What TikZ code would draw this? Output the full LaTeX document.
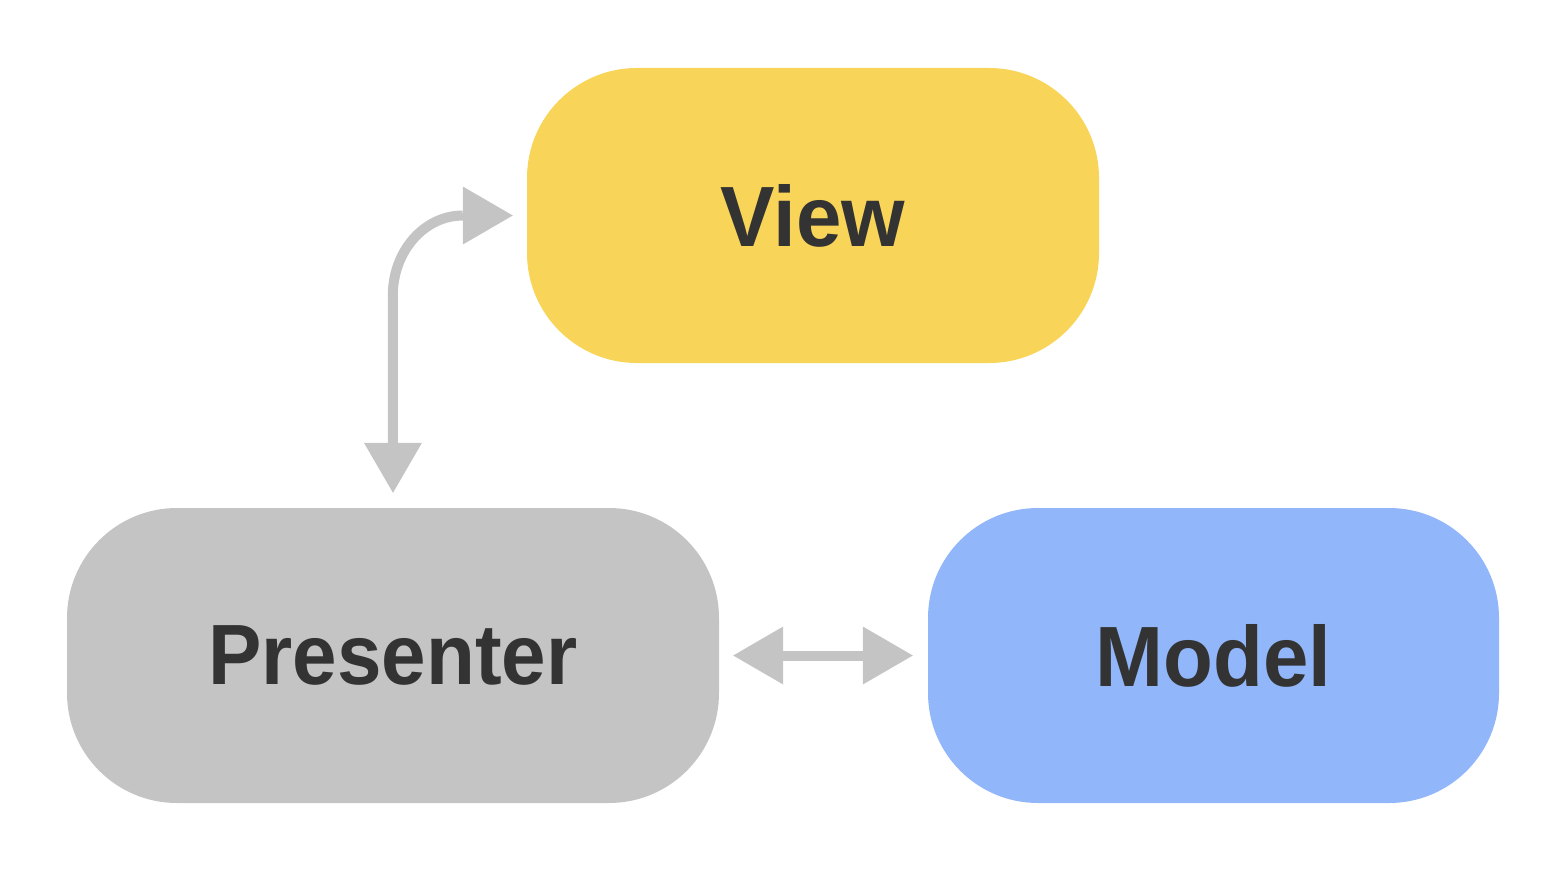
\documentclass[tikz,border=0pt]{standalone}
\usepackage{fontspec}
\setmainfont{Liberation Sans}
\usetikzlibrary{arrows.meta}
\definecolor{viewfill}{HTML}{F8D458}
\definecolor{presfill}{HTML}{C4C4C4}
\definecolor{modelfill}{HTML}{91B6F9}
\definecolor{txt}{HTML}{333333}
\definecolor{arr}{HTML}{C4C4C4}
\begin{document}
\begin{tikzpicture}[x=1pt,y=-1pt,
  box/.style={rectangle, rounded corners=110pt, minimum width=572pt, minimum height=295pt, inner sep=0pt,
    font=\fontsize{80}{90}\selectfont\bfseries, text=txt},
  conn/.style={draw=arr, line width=10pt, line cap=butt,
    {Triangle[length=50pt,width=58pt,line width=0pt,fill=arr]}-{Triangle[length=50pt,width=58pt,line width=0pt,fill=arr]}}]
\useasboundingbox (0,0) rectangle (1562,872);
\node[box, fill=viewfill] (view) at (813,215.5) {\scalebox{1.02}[1.07]{View}};
\node[box, fill=presfill, minimum width=652pt] (presenter) at (393,655.5) {\scalebox{1}[1.07]{Presenter}};
\node[box, fill=modelfill, minimum width=571pt] (model) at (1213.5,655.5) {\scalebox{1.02}[1.07]{Model}};
\coordinate (vtip) at ([xshift=-14pt]view.west);
\coordinate (ptip) at ([yshift=15pt]presenter.north);
\coordinate (petip) at ([xshift=14pt]presenter.east);
\coordinate (mtip) at ([xshift=-15pt]model.west);
\draw[conn] (vtip) -- ++(-50,0) arc[start angle=90, end angle=180, x radius=70, y radius=-80] -- (ptip);
\draw[conn] (petip) -- (mtip);
\end{tikzpicture}
\end{document}
